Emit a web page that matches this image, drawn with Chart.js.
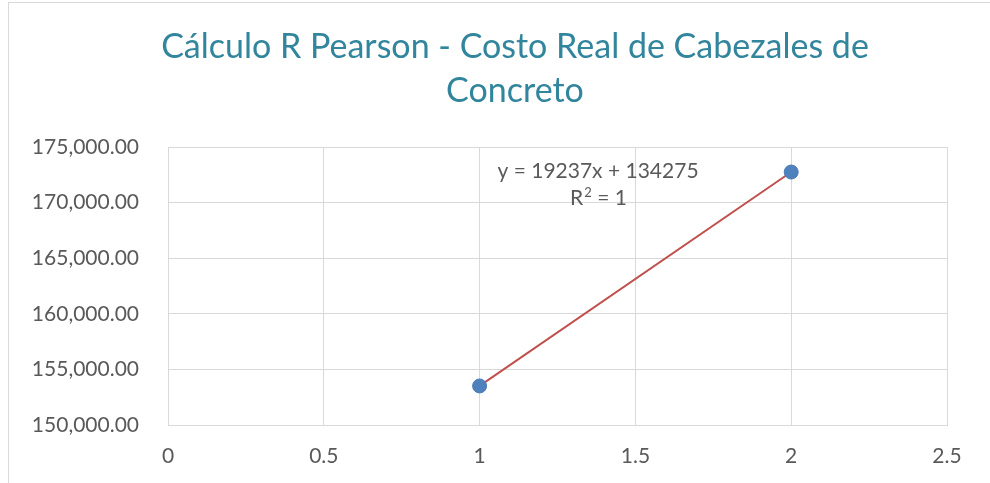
<!DOCTYPE html>
<html>
<head>
<meta charset="utf-8">
<script src="https://cdn.jsdelivr.net/npm/chart.js@4/dist/chart.umd.min.js"></script>
<style>
  html, body { margin: 0; padding: 0; background: #fff; overflow: hidden; }
  .frame { position: absolute; left: 8px; top: 2px; width: 1000px; height: 500px; border-left: 1px solid #d9d9d9; border-top: 1px solid #d9d9d9; }
  .wrap { position: absolute; left: 0; top: 0; width: 990px; height: 483px; }
</style>
</head>
<body>
<div class="frame"></div>
<div class="wrap"><canvas id="chart" width="990" height="483"></canvas></div>
<script>
// datos del gráfico
const xValues = [1, 2];
const yValues = [153512, 172749];
const titleLines = ["Cálculo R Pearson - Costo Real de Cabezales de", "Concreto"];
const equationLines = ["y = 19237x + 134275", "R² = 1"];
const yTicks = [150000, 155000, 160000, 165000, 170000, 175000];
const xTicks = [0, 0.5, 1, 1.5, 2, 2.5];

const points = xValues.map((x, i) => ({ x: x, y: yValues[i] }));

const gray = "#595959";
const fontName = "Lato";

// título en dos líneas, centrado como en Excel
const chartTitle = {
    id: "chartTitle",
    afterDraw(chart) {
        const ctx = chart.ctx;
        ctx.save();
        ctx.fillStyle = "#31859c";
        ctx.font = "34px " + fontName;
        ctx.textAlign = "center";
        ctx.textBaseline = "middle";
        titleLines.forEach((line, i) => ctx.fillText(line, 515, 47 + i * 44));
        ctx.restore();
    }
};

// texto de la ecuación de la línea de tendencia
const equationLabel = {
    id: "equationLabel",
    afterDatasetsDraw(chart) {
        const ctx = chart.ctx;
        const x = chart.scales.x.getPixelForValue(1.38);
        const y = chart.scales.y.getPixelForValue(172800);
        const big = "21px " + fontName;
        const small = "13px " + fontName;
        ctx.save();
        ctx.fillStyle = gray;
        ctx.font = big;
        ctx.textAlign = "center";
        ctx.textBaseline = "middle";
        ctx.fillText(equationLines[0], x, y);
        // segunda línea: R² = 1 con superíndice
        ctx.textAlign = "left";
        const wR = ctx.measureText("R").width;
        const wRest = ctx.measureText(" = 1").width;
        ctx.font = small;
        const w2 = ctx.measureText("2").width;
        let sx = x - (wR + w2 + wRest) / 2;
        const y2 = y + 27;
        ctx.font = big;
        ctx.fillText("R", sx, y2);
        ctx.font = small;
        ctx.fillText("2", sx + wR + 1, y2 - 6);
        ctx.font = big;
        ctx.fillText(" = 1", sx + wR + w2 + 1, y2);
        ctx.restore();
    }
};

new Chart(document.getElementById("chart"), {
    type: "scatter",
    data: {
        datasets: [
            {
                type: "line",
                label: "Tendencia",
                data: points,
                borderColor: "#c0504d",
                borderWidth: 2,
                pointRadius: 0,
                fill: false,
                order: 2
            },
            {
                label: "Costo",
                data: points,
                backgroundColor: "#4f81bd",
                borderColor: "#4a7ab5",
                borderWidth: 1,
                pointRadius: 7,
                order: 1
            }
        ]
    },
    options: {
        responsive: false,
        animation: false,
        devicePixelRatio: 1,
        layout: { padding: { left: 0, right: 43, top: 147, bottom: 0 } },
        plugins: {
            legend: { display: false },
            tooltip: { enabled: false },
            title: { display: false }
        },
        scales: {
            x: {
                type: "linear",
                min: 0,
                max: 2.5,
                afterBuildTicks(scale) {
                    scale.ticks = xTicks.map(v => ({ value: v }));
                },
                afterFit(scale) { scale.height = 58; },
                grid: { color: "#d9d9d9", drawTicks: false },
                border: { color: "#d9d9d9" },
                ticks: {
                    color: gray,
                    padding: 19,
                    font: { family: fontName, size: 21 },
                    callback: v => String(v)
                }
            },
            y: {
                min: 150000,
                max: 175000,
                afterBuildTicks(scale) {
                    scale.ticks = yTicks.map(v => ({ value: v }));
                },
                afterFit(scale) { scale.width = 168; },
                grid: { color: "#d9d9d9", drawTicks: false },
                border: { color: "#d9d9d9" },
                ticks: {
                    color: gray,
                    padding: 29,
                    font: { family: fontName, size: 21 },
                    callback: v => v.toLocaleString("en-US", { minimumFractionDigits: 2, maximumFractionDigits: 2 })
                }
            }
        }
    },
    plugins: [equationLabel, chartTitle]
});
</script>
</body>
</html>
